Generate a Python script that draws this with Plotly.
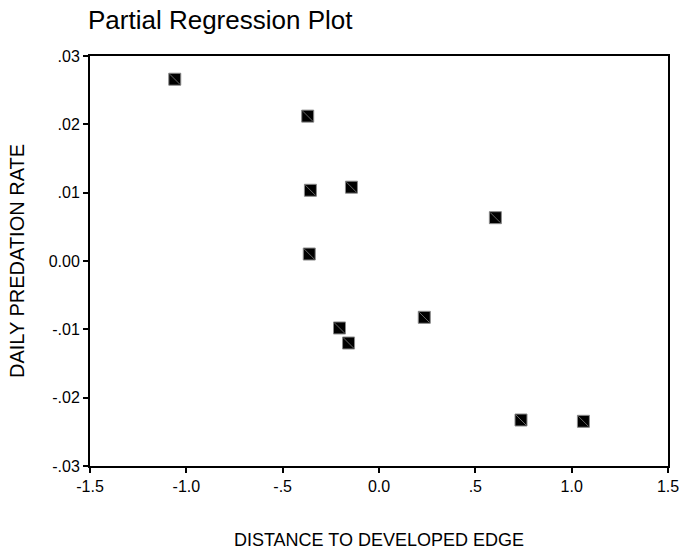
import plotly.graph_objects as go

# Data
distance = [-1.06, -0.37, -0.356, -0.143, 0.604, -0.362, 0.235, -0.205, -0.158, 0.737, 1.061]
predation = [0.0266, 0.0212, 0.01035, 0.0108, 0.00634, 0.00102, -0.00824, -0.0098, -0.0120, -0.02327, -0.02346]

x_tickvals = [-1.5, -1.0, -0.5, 0.0, 0.5, 1.0, 1.5]
x_ticktext = ["-1.5", "-1.0", "-.5", "0.0", ".5", "1.0", "1.5"]
y_tickvals = [0.03, 0.02, 0.01, 0.0, -0.01, -0.02, -0.03]
y_ticktext = [".03", ".02", ".01", "0.00", "-.01", "-.02", "-.03"]

FONT = "Liberation Sans, Arial, sans-serif"

fig = go.Figure()
fig.add_trace(go.Scatter(
    x=distance, y=predation, mode="markers",
    marker=dict(symbol="square", size=12, color="black",
                line=dict(color="#8a8a8a", width=1)),
    showlegend=False, hoverinfo="x+y"))
fig.add_trace(go.Scatter(
    x=distance, y=predation, mode="markers",
    marker=dict(symbol="line-nw", size=10, color="#666666",
                line=dict(color="#666666", width=1)),
    showlegend=False, hoverinfo="skip"))

axis_common = dict(
    showgrid=False, zeroline=False, showline=True, linecolor="black",
    linewidth=2, mirror=True, ticks="outside", ticklen=5, tickwidth=1.5,
    tickcolor="black", tickfont=dict(family=FONT, size=16, color="black"),
    automargin=False,
)

fig.update_layout(
    width=680, height=550,
    margin=dict(l=90, r=12, t=56, b=84),
    paper_bgcolor="white", plot_bgcolor="white",
    title=dict(text="Partial Regression Plot", x=88/680, xref="container",
               xanchor="left", y=1 - 20/550, yref="container", yanchor="middle",
               font=dict(family=FONT, size=26, color="black")),
    xaxis=dict(range=[-1.5, 1.5], tickvals=x_tickvals, ticktext=x_ticktext,
               title=dict(text="DISTANCE TO DEVELOPED EDGE", standoff=46,
                          font=dict(family=FONT, size=18, color="black")),
               **axis_common),
    yaxis=dict(range=[-0.03, 0.03], tickvals=y_tickvals, ticktext=y_ticktext,
               title=dict(text="DAILY PREDATION RATE", standoff=19,
                          font=dict(family=FONT, size=20, color="black")),
               **axis_common),
)

fig.write_html("out.html")
